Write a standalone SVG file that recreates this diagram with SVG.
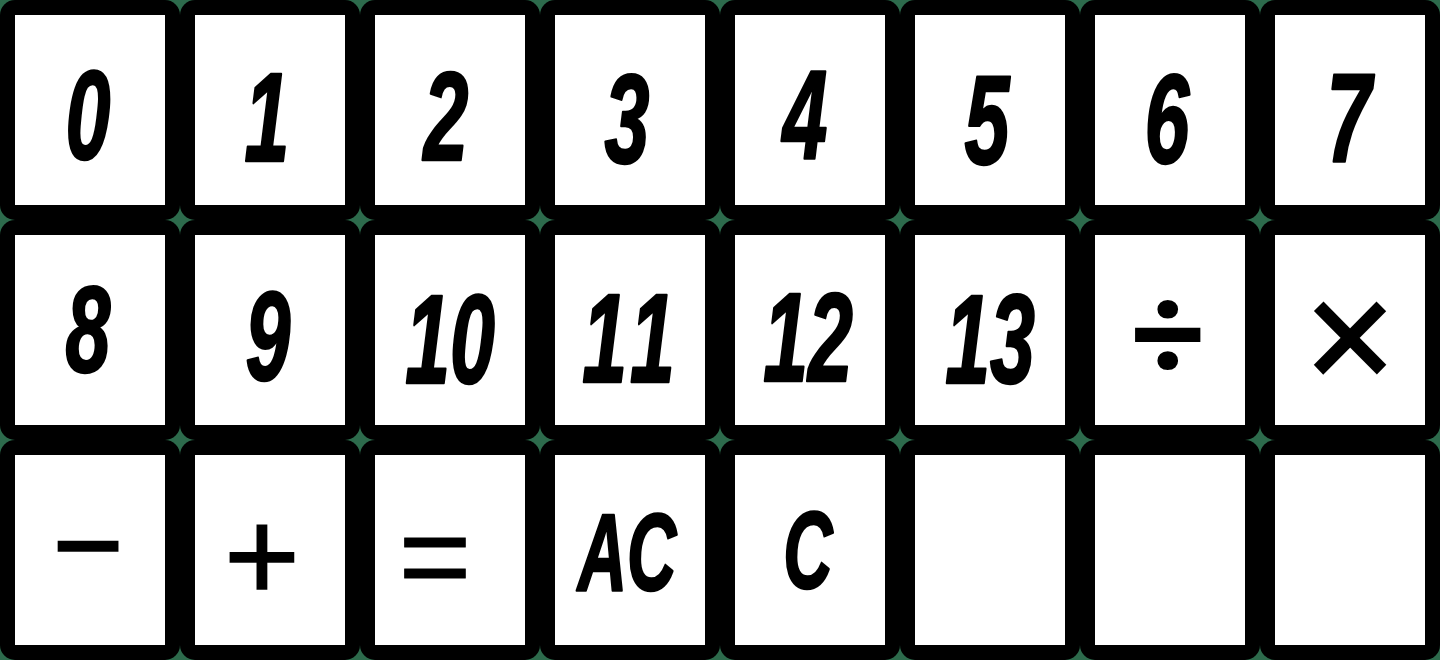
<svg xmlns="http://www.w3.org/2000/svg" width="1440" height="660" viewBox="0 0 1440 660">
<style>
.bg{fill:#2d6b4c}
.frame{fill:#000}
.face{fill:#fff}
.lbl{font-family:"Liberation Sans",Arial,sans-serif;font-weight:bold;font-style:italic;font-size:126px;fill:#000;stroke:#000;stroke-width:2.5;stroke-linejoin:round;text-anchor:middle}
.let{font-family:"Liberation Sans",Arial,sans-serif;font-weight:bold;font-style:italic;font-size:110px;fill:#000;stroke:#000;stroke-width:2.5;stroke-linejoin:round;text-anchor:middle}
.sym{font-family:"Liberation Sans",Arial,sans-serif;font-weight:normal;fill:#000;stroke:#000;text-anchor:middle}
.sym2{font-family:Roboto,"Noto Sans",sans-serif;font-weight:bold;fill:#000;text-anchor:middle}
</style>
<rect class="bg" x="0" y="0" width="1440" height="660"/>
<g id="connectors"/>
<g id="key-0"><rect class="frame" x="0" y="0" width="180" height="220" rx="15"/><rect class="face" x="15" y="15" width="150" height="190"/><text class="lbl" transform="translate(88,159) scale(0.64,1)">0</text></g>
<g id="key-1"><rect class="frame" x="180" y="0" width="180" height="220" rx="15"/><rect class="face" x="195" y="15" width="150" height="190"/><text class="lbl" transform="translate(267,161) scale(0.64,1)">1</text></g>
<g id="key-2"><rect class="frame" x="360" y="0" width="180" height="220" rx="15"/><rect class="face" x="375" y="15" width="150" height="190"/><text class="lbl" transform="translate(446,160) scale(0.64,1)">2</text></g>
<g id="key-3"><rect class="frame" x="540" y="0" width="180" height="220" rx="15"/><rect class="face" x="555" y="15" width="150" height="190"/><text class="lbl" transform="translate(627,163) scale(0.64,1)">3</text></g>
<g id="key-4"><rect class="frame" x="720" y="0" width="180" height="220" rx="15"/><rect class="face" x="735" y="15" width="150" height="190"/><text class="lbl" transform="translate(805,159) scale(0.64,1)">4</text></g>
<g id="key-5"><rect class="frame" x="900" y="0" width="180" height="220" rx="15"/><rect class="face" x="915" y="15" width="150" height="190"/><text class="lbl" transform="translate(987,164) scale(0.64,1)">5</text></g>
<g id="key-6"><rect class="frame" x="1080" y="0" width="180" height="220" rx="15"/><rect class="face" x="1095" y="15" width="150" height="190"/><text class="lbl" transform="translate(1167,163) scale(0.64,1)">6</text></g>
<g id="key-7"><rect class="frame" x="1260" y="0" width="180" height="220" rx="15"/><rect class="face" x="1275" y="15" width="150" height="190"/><text class="lbl" transform="translate(1349,162) scale(0.64,1)">7</text></g>
<g id="key-8"><rect class="frame" x="0" y="220" width="180" height="220" rx="15"/><rect class="face" x="15" y="235" width="150" height="190"/><text class="lbl" transform="translate(88,372) scale(0.64,0.97)">8</text></g>
<g id="key-9"><rect class="frame" x="180" y="220" width="180" height="220" rx="15"/><rect class="face" x="195" y="235" width="150" height="190"/><text class="lbl" transform="translate(268,380) scale(0.64,1)">9</text></g>
<g id="key-10"><rect class="frame" x="360" y="220" width="180" height="220" rx="15"/><rect class="face" x="375" y="235" width="150" height="190"/><text class="lbl" transform="translate(450,383) scale(0.64,1)">10</text></g>
<g id="key-11"><rect class="frame" x="540" y="220" width="180" height="220" rx="15"/><rect class="face" x="555" y="235" width="150" height="190"/><text class="lbl" letter-spacing="14" transform="translate(633,382) scale(0.64,1)">11</text></g>
<g id="key-12"><rect class="frame" x="720" y="220" width="180" height="220" rx="15"/><rect class="face" x="735" y="235" width="150" height="190"/><text class="lbl" transform="translate(808,381) scale(0.64,1)">12</text></g>
<g id="key-13"><rect class="frame" x="900" y="220" width="180" height="220" rx="15"/><rect class="face" x="915" y="235" width="150" height="190"/><text class="lbl" transform="translate(990,383) scale(0.64,1)">13</text></g>
<g id="key-divide"><rect class="frame" x="1080" y="220" width="180" height="220" rx="15"/><rect class="face" x="1095" y="235" width="150" height="190"/><text class="sym2" x="1168" y="378" font-size="130">÷</text></g>
<g id="key-multiply"><rect class="frame" x="1260" y="220" width="180" height="220" rx="15"/><rect class="face" x="1275" y="235" width="150" height="190"/><text class="sym" x="1350" y="390" font-size="155" stroke-width="2.5">×</text></g>
<g id="key-minus"><rect class="frame" x="0" y="440" width="180" height="220" rx="15"/><rect class="face" x="15" y="455" width="150" height="190"/><text class="sym" x="88" y="586" font-size="120" stroke-width="2.5">−</text></g>
<g id="key-plus"><rect class="frame" x="180" y="440" width="180" height="220" rx="15"/><rect class="face" x="195" y="455" width="150" height="190"/><text class="sym" x="262" y="600" font-size="130" stroke-width="1.5">+</text></g>
<g id="key-equals"><rect class="frame" x="360" y="440" width="180" height="220" rx="15"/><rect class="face" x="375" y="455" width="150" height="190"/><text class="sym" x="435" y="599" font-size="125" stroke-width="0.8">=</text></g>
<g id="key-ac"><rect class="frame" x="540" y="440" width="180" height="220" rx="15"/><rect class="face" x="555" y="455" width="150" height="190"/><text class="let" transform="translate(627,590) scale(0.62,1)">AC</text></g>
<g id="key-c"><rect class="frame" x="720" y="440" width="180" height="220" rx="15"/><rect class="face" x="735" y="455" width="150" height="190"/><text class="let" transform="translate(808,588) scale(0.62,1)">C</text></g>
<g id="key-blank-1"><rect class="frame" x="900" y="440" width="180" height="220" rx="15"/><rect class="face" x="915" y="455" width="150" height="190"/></g>
<g id="key-blank-2"><rect class="frame" x="1080" y="440" width="180" height="220" rx="15"/><rect class="face" x="1095" y="455" width="150" height="190"/></g>
<g id="key-blank-3"><rect class="frame" x="1260" y="440" width="180" height="220" rx="15"/><rect class="face" x="1275" y="455" width="150" height="190"/></g>
</svg>
